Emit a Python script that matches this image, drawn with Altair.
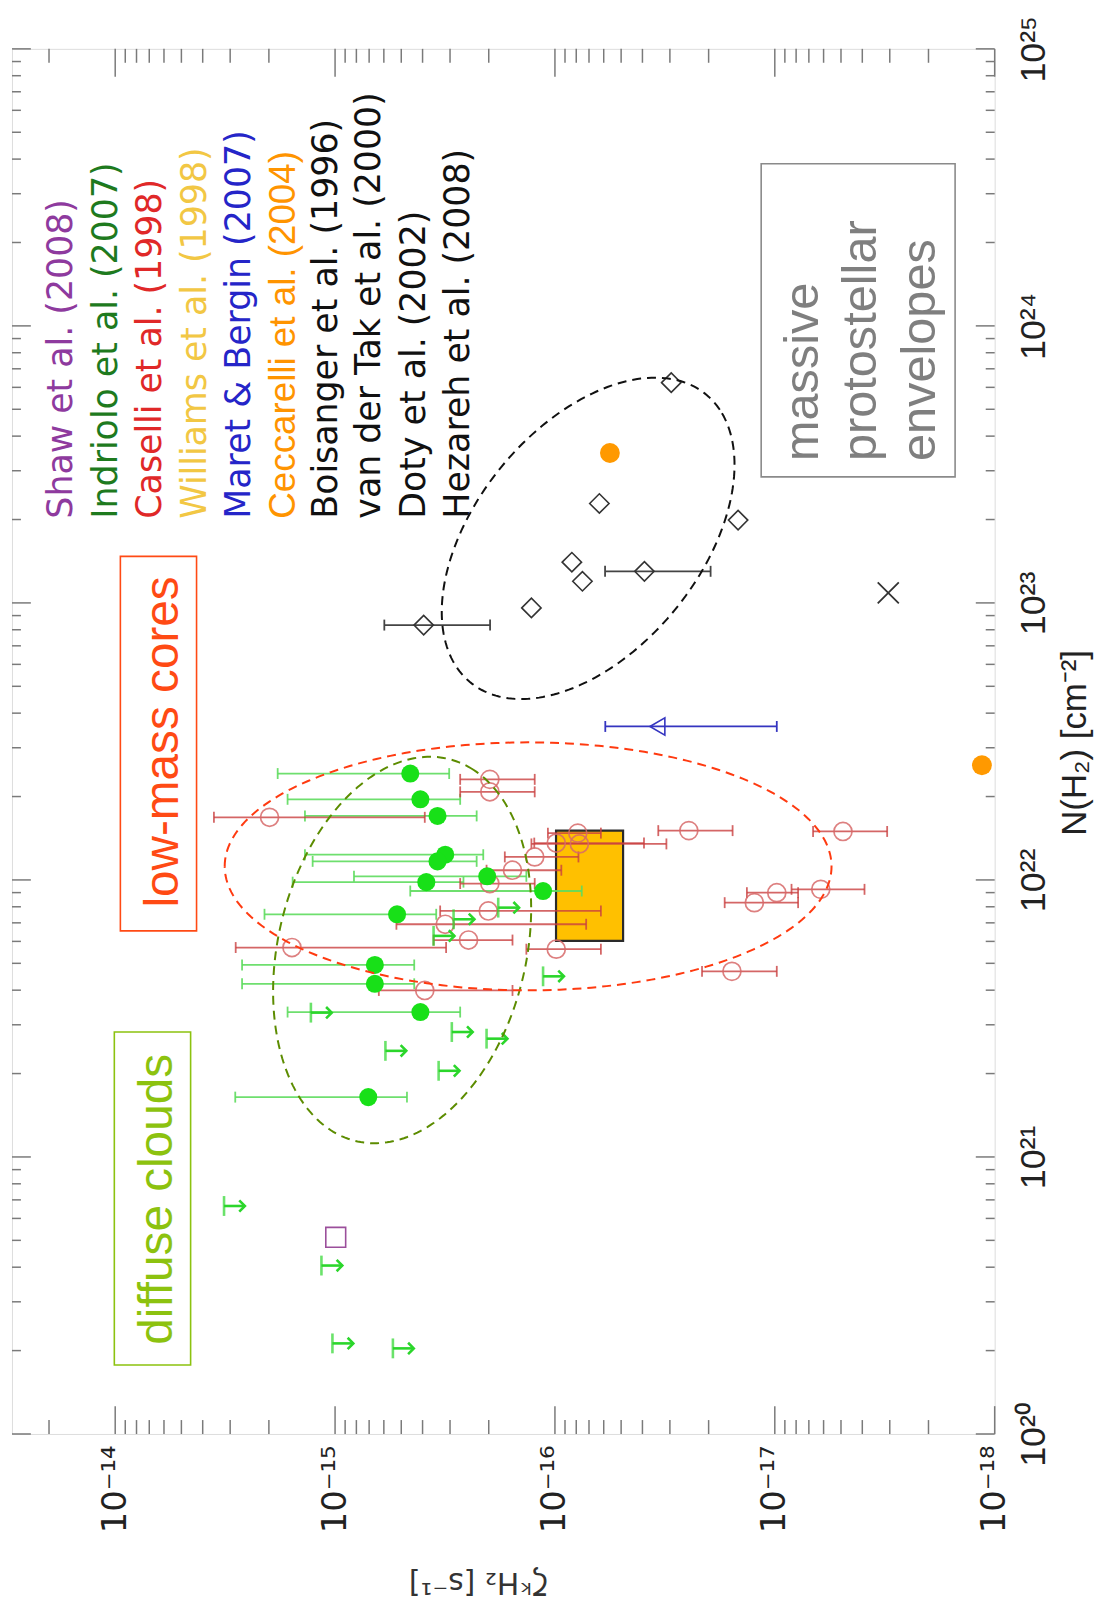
import altair as alt
import numpy as np
import pandas as pd

# ---------------- tick values / labels ----------------
zeta_tick_vals = [1e-18, 1e-17, 1e-16, 1e-15, 1e-14]
zeta_tick_labels = ['10⁻¹⁸', '10⁻¹⁷', '10⁻¹⁶', '10⁻¹⁵', '10⁻¹⁴']
n_tick_vals = [1e20, 1e21, 1e22, 1e23, 1e24, 1e25]
n_tick_labels = ['10²⁰', '10²¹', '10²²', '10²³', '10²⁴', '10²⁵']

# ---------------- data (log10 values) ----------------
# Indriolo et al. (2007): detections with error bars
ind_lz = [-15.342, -15.388, -15.466, -15.501, -15.466, -15.692, -15.415, -15.946, -15.282, -15.181, -15.181, -15.388, -15.151]
ind_lN = [22.384, 22.291, 22.231, 22.091, 22.067, 22.013, 21.992, 21.960, 21.876, 21.693, 21.625, 21.523, 21.216]
ind_lo = [-14.739, -14.784, -14.863, -14.863, -14.898, -15.086, -14.807, -15.342, -14.679, -14.577, -14.577, -14.784, -14.546]
ind_hi = [-15.519, -15.569, -15.644, -15.674, -15.644, -15.870, -15.584, -16.122, -15.460, -15.360, -15.360, -15.569, -15.327]
# Indriolo et al. (2007): upper limits
lim_lz = [-14.890, -15.531, -15.689, -15.229, -15.471, -15.742, -15.539, -15.448, -15.946, -14.495, -14.938, -14.988, -15.263]
lim_lN = [21.521, 21.451, 21.427, 21.383, 21.311, 21.900, 21.858, 21.798, 21.652, 20.823, 20.608, 20.327, 20.309]
# Caselli et al. (1998)
cas_lz = [-15.704, -15.704, -14.702, -16.104, -16.111, -16.006, -15.908, -15.807, -15.704, -15.697, -15.501,
          -15.607, -14.804, -16.006, -15.408, -16.609, -17.310, -17.009, -16.907, -17.209, -16.805]
cas_lN = [22.363, 22.318, 22.226, 22.169, 22.130, 22.133, 22.083, 22.035, 21.987, 21.888, 21.840,
          21.783, 21.756, 21.750, 21.601, 22.178, 22.175, 21.954, 21.918, 21.966, 21.670]
cas_lo = [-15.569, -15.569, -14.449, -15.968, -15.893, -15.906, -15.772, -15.689, -15.569, -15.478, -15.279,
          -15.448, -14.548, -15.870, -15.199, -16.470, -17.174, -16.873, -16.772, -17.076, -16.669]
cas_hi = [-15.908, -15.908, -15.408, -16.209, -16.507, -16.405, -16.107, -16.029, -15.908, -16.209, -16.142,
          -15.807, -15.505, -16.209, -15.807, -16.808, -17.511, -17.106, -17.106, -17.408, -17.009]
# Boisanger / van der Tak / Doty: diamonds
dia_lz = [-15.403, -15.893, -16.077, -16.125, -16.407, -16.202, -16.833, -16.529]
dia_lN = [22.920, 22.982, 23.147, 23.078, 23.114, 23.359, 23.299, 23.795]
diaerr_lz = [-15.403, -16.407]
diaerr_lN = [22.920, 23.114]
diaerr_lo = [-15.224, -16.228]
diaerr_hi = [-15.705, -16.708]
# Hezareh et al. (2008)
hez_lz = [-17.516]
hez_lN = [23.036]
# Ceccarelli et al. (2004)
cec_lz = [-16.250, -17.942]
cec_lN = [23.541, 22.414]
# Maret & Bergin (2007)
mar_lz = [-16.466]
mar_lN = [22.554]
mar_lo = [-16.229]
mar_hi = [-17.009]
# Shaw et al. (2008)
shaw_lz = [-15.003]
shaw_lN = [20.710]
# Williams et al. (1998): range box
wil_lz = [-16.005, -16.31]
wil_lN = [21.78, 22.178]

legend_texts = ["Shaw et al. (2008)", "Indriolo et al. (2007)", "Caselli et al. (1998)",
                "Williams et al. (1998)", "Maret & Bergin (2007)", "Ceccarelli et al. (2004)",
                "Boisanger et al. (1996)", "van der Tak et al. (2000)", "Doty et al. (2002)",
                "Hezareh et al. (2008)"]
legend_colors = ["#8E3A9E", "#1E7A1E", "#E02828", "#F2C744", "#2525C8", "#FF9400",
                 "#111111", "#111111", "#111111", "#111111"]

# ---------------- layout constants ----------------
W, H = 989, 1394
xs = alt.Scale(type="log", domain=[1e-18, 10 ** -13.5305], reverse=True, nice=False)
ys = alt.Scale(type="log", domain=[1e20, 1e25], nice=False)

zeta_expr = "[" + ",".join("'%s'" % s for s in zeta_tick_labels) + "][round(log(datum.value)/LN10)+18]"
n_expr = "[" + ",".join("'%s'" % s for s in n_tick_labels) + "][round(log(datum.value)/LN10)-20]"

x_axis = alt.Axis(values=zeta_tick_vals, labelExpr=zeta_expr, labelAngle=270, labelAlign="right",
                  labelBaseline="middle", labelPadding=11, labelFont="DejaVu Sans", labelFontSize=34,
                  labelColor="#222222", labelFlush=False, labelOverlap=False, ticks=False, tickSize=0,
                  domain=False, grid=False, title="ζᵏH₂ [s⁻¹]", titleAngle=180, titleFont="DejaVu Sans",
                  titleFontSize=30, titleFontWeight="normal", titleColor="#333333", titleX=469,
                  titleY=148, titleAlign="center", titleBaseline="middle")
y_axis = alt.Axis(orient="right", values=n_tick_vals, labelExpr=n_expr, labelAngle=270, labelAlign="center",
                  labelBaseline="top", labelPadding=22, labelFont="Liberation Sans Narrow, Liberation Sans",
                  labelFontSize=36, labelColor="#222222", labelFlush=False, labelOverlap=False,
                  ticks=False, tickSize=0, domain=False, grid=False, title="N(H₂)  [cm⁻²]",
                  titleAngle=270, titleFont="Liberation Sans Narrow, Liberation Sans", titleFontSize=35,
                  titleFontWeight="normal", titleColor="#222222", titleX=80, titleY=698,
                  titleAlign="center", titleBaseline="middle")


def xq(f):
    return alt.X(f"{f}:Q", scale=xs, axis=x_axis)


def yq(f):
    return alt.Y(f"{f}:Q", scale=ys, axis=y_axis)


p10 = lambda a: list(10 ** np.array(a, dtype=float))

# ---------------- tick rules (frame ticks) ----------------
z_major = [v for v in zeta_tick_vals]
z_minor = [k * 10.0 ** n for n in range(-18, -13) for k in range(2, 10) if k * 10.0 ** n < 10 ** -13.5305]
n_major = n_tick_vals
n_minor = [k * 10.0 ** n for n in range(20, 25) for k in range(2, 10)]
tick_col = "#7a7a7a"

layers = []
for vals, ln in [(z_major, 28), (z_minor, 14)]:
    d = pd.DataFrame({"v": vals})
    layers.append(alt.Chart(d).mark_rule(color=tick_col, strokeWidth=1.5).encode(
        x=xq("v"), y=alt.value(H), y2=alt.value(H - ln)))
    layers.append(alt.Chart(d).mark_rule(color=tick_col, strokeWidth=1.5).encode(
        x=xq("v"), y=alt.value(0), y2=alt.value(ln)))
for vals, ln in [(n_major, 19), (n_minor, 9)]:
    d = pd.DataFrame({"v": vals})
    layers.append(alt.Chart(d).mark_rule(color=tick_col, strokeWidth=1.5).encode(
        y=yq("v"), x=alt.value(W), x2=alt.value(W - ln)))
    layers.append(alt.Chart(d).mark_rule(color=tick_col, strokeWidth=1.5).encode(
        y=yq("v"), x=alt.value(0), x2=alt.value(ln)))

# ---------------- annotation boxes ----------------
boxes = pd.DataFrame({
    "x1": p10([-14.0235, -13.996, -16.938]),
    "x2": p10([-14.370, -14.343, -17.820]),
    "y1": p10([21.816, 20.249, 23.455]),
    "y2": p10([23.168, 21.451, 24.585]),
    "col": ["#FF4A14", "#8CC20F", "#8a8a8a"],
})
layers.append(alt.Chart(boxes).mark_rect(fillOpacity=0, strokeWidth=1.6).encode(
    x=xq("x1"), x2="x2:Q", y=yq("y1"), y2="y2:Q", stroke=alt.Stroke("col:N", scale=None)))

# Williams box
wil = pd.DataFrame({"x1": [10 ** wil_lz[0]], "x2": [10 ** wil_lz[1]],
                    "y1": [10 ** wil_lN[0]], "y2": [10 ** wil_lN[1]]})
layers.append(alt.Chart(wil).mark_rect(fill="#FFC000", stroke="#2a2a2a", strokeWidth=2.2).encode(
    x=xq("x1"), x2="x2:Q", y=yq("y1"), y2="y2:Q"))


# ---------------- error bars ----------------
def errbars(lz, lN, lo, hi, color, width=1.8, cap=11, opacity=1.0):
    d = pd.DataFrame({"lo": p10(lo), "hi": p10(hi), "n": p10(lN)})
    caps = pd.DataFrame({"z": p10(list(lo) + list(hi)), "n": p10(list(lN) + list(lN))})
    return [
        alt.Chart(d).mark_rule(color=color, strokeWidth=width, opacity=opacity).encode(
            x=xq("lo"), x2="hi:Q", y=yq("n")),
        alt.Chart(caps).mark_tick(orient="vertical", color=color, size=cap, thickness=width,
                                  opacity=opacity).encode(x=xq("z"), y=yq("n")),
    ]


layers += errbars(ind_lz, ind_lN, ind_lo, ind_hi, "#5EDC5E", opacity=0.9)
layers += errbars(cas_lz, cas_lN, cas_lo, cas_hi, "#C94040", opacity=0.8)
layers += errbars(diaerr_lz, diaerr_lN, diaerr_lo, diaerr_hi, "#444444")
layers += errbars(mar_lz, mar_lN, mar_lo, mar_hi, "#3535C0")

# ---------------- symbols ----------------
cas = pd.DataFrame({"z": p10(cas_lz), "n": p10(cas_lN)})
layers.append(alt.Chart(cas).mark_point(shape="circle", filled=False, size=330, color="#D86A6A",
                                        strokeWidth=1.7, opacity=0.85).encode(x=xq("z"), y=yq("n")))
ind = pd.DataFrame({"z": p10(ind_lz), "n": p10(ind_lN)})
layers.append(alt.Chart(ind).mark_circle(size=330, color="#18E018", opacity=1).encode(x=xq("z"), y=yq("n")))

lim = pd.DataFrame({"z": p10(lim_lz), "n": p10(lim_lN)})
lim_col = "#2BD62B"
layers.append(alt.Chart(lim).mark_tick(orient="vertical", color=lim_col, size=20, thickness=2.6).encode(
    x=xq("z"), y=yq("n")))
layers.append(alt.Chart(lim).mark_rule(color=lim_col, strokeWidth=2.6, x2Offset=21).encode(
    x=xq("z"), x2="z:Q", y=yq("n")))
layers.append(alt.Chart(lim).mark_point(shape="M-1,-1L0,0L-1,1", filled=False, size=130, color=lim_col,
                                        strokeWidth=2.6, xOffset=21, opacity=1).encode(x=xq("z"), y=yq("n")))

dia = pd.DataFrame({"z": p10(dia_lz), "n": p10(dia_lN)})
layers.append(alt.Chart(dia).mark_point(shape="diamond", filled=False, size=380, color="#333333",
                                        strokeWidth=1.6, opacity=1).encode(x=xq("z"), y=yq("n")))
hez = pd.DataFrame({"z": p10(hez_lz), "n": p10(hez_lN)})
layers.append(alt.Chart(hez).mark_point(shape="M-1,-1L1,1M-1,1L1,-1", filled=False, size=450, color="#333333",
                                        strokeWidth=1.8, opacity=1).encode(x=xq("z"), y=yq("n")))
cec = pd.DataFrame({"z": p10(cec_lz), "n": p10(cec_lN)})
layers.append(alt.Chart(cec).mark_circle(size=400, color="#FF9900", opacity=1).encode(x=xq("z"), y=yq("n")))
mar = pd.DataFrame({"z": p10(mar_lz), "n": p10(mar_lN)})
layers.append(alt.Chart(mar).mark_point(shape="triangle-left", filled=False, size=300, color="#3535C0",
                                        strokeWidth=1.6, opacity=1).encode(x=xq("z"), y=yq("n")))
shaw = pd.DataFrame({"z": p10(shaw_lz), "n": p10(shaw_lN)})
layers.append(alt.Chart(shaw).mark_point(shape="square", filled=False, size=400, color="#9B4F9B",
                                         strokeWidth=1.6, opacity=1).encode(x=xq("z"), y=yq("n")))

# ---------------- dashed ellipses (region outlines) ----------------
ell_specs = [  # centre lz, centre lN, semi-axis a, semi-axis b, angle (deg), colour
    (-15.305, 21.747, 0.727, 0.550, 115.5, "#5C8C00"),
    (-15.878, 22.049, 1.380, 0.4476, 0.0, "#FF3A10"),
    (-16.151, 23.233, 0.758, 0.453, 143.4, "#111111"),
]
rows = []
t = np.linspace(0, 2 * np.pi, 241)
for gi, (cz, cn, a, b, ang, col) in enumerate(ell_specs):
    th = np.radians(ang)
    ez = cz + a * np.cos(th) * np.cos(t) - b * np.sin(th) * np.sin(t)
    en = cn + a * np.sin(th) * np.cos(t) + b * np.cos(th) * np.sin(t)
    for i in range(len(t)):
        rows.append({"g": gi, "i": i, "z": 10 ** ez[i], "n": 10 ** en[i], "col": col})
ell = pd.DataFrame(rows)
layers.append(alt.Chart(ell).mark_line(strokeDash=[9, 6], strokeWidth=2).encode(
    x=xq("z"), y=yq("n"), detail="g:N", order="i:Q", color=alt.Color("col:N", scale=None)))

# ---------------- texts ----------------
leg_lz = [-13.803, -14.007, -14.210, -14.414, -14.613, -14.816, -15.011, -15.205, -15.409, -15.608]
leg = pd.DataFrame({"z": p10(leg_lz), "n": [10 ** 23.304] * 10, "t": legend_texts, "col": legend_colors,
                    "f": ["h"] * 5 + ["c"] + ["h"] * 4})
layers.append(alt.Chart(leg[leg.f == "h"]).mark_text(angle=270, align="left", baseline="alphabetic",
                                                    font="DejaVu Sans", fontSize=35).encode(
    x=xq("z"), y=yq("n"), text="t:N", color=alt.Color("col:N", scale=None)))
layers.append(alt.Chart(leg[leg.f == "c"]).mark_text(angle=270, align="left", baseline="alphabetic",
                                                    font="Liberation Sans", fontSize=37).encode(
    x=xq("z"), y=yq("n"), text="t:N", color=alt.Color("col:N", scale=None)))

ann = pd.DataFrame({"z": p10([-14.287, -14.260]), "n": p10([22.498, 20.847]),
                    "t": ["low-mass cores", "diffuse clouds"], "col": ["#FF4A14", "#8CC20F"]})
layers.append(alt.Chart(ann).mark_text(angle=270, align="center", baseline="alphabetic",
                                       font="Liberation Sans", fontSize=48).encode(
    x=xq("z"), y=yq("n"), text="t:N", color=alt.Color("col:N", scale=None)))
mpe = pd.DataFrame({"z": p10([-17.195, -17.462, -17.729]), "n": [10 ** 23.512] * 3,
                    "t": ["massive", "protostellar", "envelopes"]})
layers.append(alt.Chart(mpe).mark_text(angle=270, align="left", baseline="alphabetic",
                                       font="Liberation Sans", fontSize=49, color="#7f7f7f").encode(
    x=xq("z"), y=yq("n"), text="t:N"))

chart = alt.layer(*layers).properties(
    width=W, height=H,
    autosize=alt.AutoSizeParams(type="none"),
    padding={"left": 4, "top": 36, "right": 106, "bottom": 168},
).configure_view(stroke="#8a8a8a", strokeWidth=2.5).configure(font="DejaVu Sans", background="white")

chart.save("out.html", embed_options={"renderer": "svg", "actions": False})
